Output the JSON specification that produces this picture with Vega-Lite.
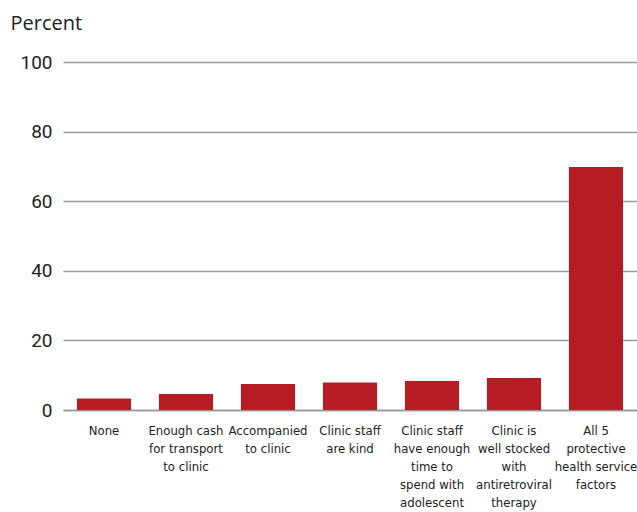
{
  "$schema": "https://vega.github.io/schema/vega-lite/v6.json",
  "autosize": "none",
  "width": 574,
  "height": 348,
  "padding": {"left": 63, "top": 62, "right": 0, "bottom": 102},
  "background": "white",
  "data": {
    "values": [
      {"factor": "None", "percent": 3.3, "order": 1},
      {"factor": "Enough cash|for transport|to clinic", "percent": 4.6, "order": 2},
      {"factor": "Accompanied|to clinic", "percent": 7.5, "order": 3},
      {"factor": "Clinic staff|are kind", "percent": 7.9, "order": 4},
      {"factor": "Clinic staff|have enough|time to|spend with|adolescent", "percent": 8.3, "order": 5},
      {"factor": "Clinic is|well stocked|with|antiretroviral|therapy", "percent": 9.2, "order": 6},
      {"factor": "All 5|protective|health service|factors", "percent": 69.8, "order": 7}
    ]
  },
  "mark": {"type": "bar", "color": "#b51c24"},
  "encoding": {
    "x": {
      "field": "factor",
      "type": "nominal",
      "sort": {"field": "order"},
      "scale": {"paddingInner": 0.34, "paddingOuter": 0.17},
      "axis": {
        "title": null,
        "labelAngle": 0,
        "labelExpr": "split(datum.label, '|')",
        "labelFont": "DejaVu Sans Condensed, Roboto Condensed, sans-serif",
        "labelFontSize": 13,
        "labelLineHeight": 18,
        "labelColor": "#222222",
        "labelPadding": 14,
        "labelBaseline": "top",
        "ticks": false,
        "domainColor": "#999999",
        "domainWidth": 1.5,
        "grid": false
      }
    },
    "y": {
      "field": "percent",
      "type": "quantitative",
      "scale": {"domain": [0, 100], "nice": false},
      "axis": {
        "values": [0, 20, 40, 60, 80, 100],
        "title": "Percent",
        "titleAngle": 0,
        "titleAlign": "left",
        "titleBaseline": "middle",
        "titleX": -53,
        "titleY": -39,
        "titleFont": "Open Sans",
        "titleFontSize": 20,
        "titleFontWeight": "normal",
        "titleColor": "#222222",
        "labelFont": "Roboto",
        "labelFontSize": 19,
        "labelColor": "#222222",
        "labelPadding": 11,
        "ticks": false,
        "domain": false,
        "gridColor": "#999999",
        "gridWidth": 1.3
      }
    }
  },
  "config": {"view": {"stroke": null}}
}
